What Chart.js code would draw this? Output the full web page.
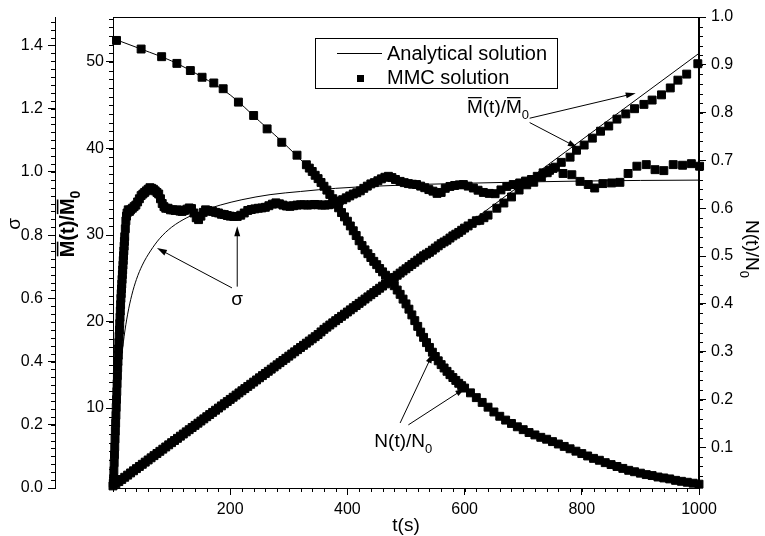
<!DOCTYPE html>
<html>
<head>
<meta charset="utf-8">
<script src="https://cdn.jsdelivr.net/npm/chart.js@4.4.0/dist/chart.umd.min.js"></script>
<style>
  body { margin: 0; background: #fff; }
</style>
</head>
<body>
<canvas id="chart" width="765" height="536"></canvas>
<script>
// tick labels
const xTicks = [200, 400, 600, 800, 1000];
const sigmaTicks = [0, 0.2, 0.4, 0.6, 0.8, 1.0, 1.2, 1.4];
const mTicks = [10, 20, 30, 40, 50];
const nTicks = [0.1, 0.2, 0.3, 0.4, 0.5, 0.6, 0.7, 0.8, 0.9, 1.0];

// sigma, analytical solution
const sigmaLineT = [0, 2, 4, 7, 10, 14, 19, 25, 32, 40, 50, 64, 80, 100, 126, 155, 183, 220, 268, 320, 380, 450, 520, 600, 700, 800, 900, 1000];
const sigmaLine = [0, 0.08, 0.15, 0.24, 0.32, 0.40, 0.48, 0.55, 0.61, 0.66, 0.705, 0.75, 0.79, 0.825, 0.855, 0.878, 0.895, 0.912, 0.928, 0.938, 0.948, 0.955, 0.960, 0.964, 0.968, 0.971, 0.973, 0.974];

// sigma, MMC solution
const sigmaMmcT = [0.5, 1, 1.5, 2, 2.5, 3, 3.5, 4, 4.5, 5, 5.5, 6, 6.5, 7, 7.5, 8, 8.5, 9, 9.5, 10, 10.5, 11, 11.5, 12, 12.5, 13, 13.5, 14, 14.5, 15, 15.5, 16, 16.5, 17, 17.5, 18, 18.5, 19, 19.5, 20, 21, 22, 23, 24, 26, 28, 30, 33, 36, 39, 42, 45, 48, 51, 54, 57, 60, 63, 66, 69, 72, 75, 78, 81, 84, 87, 90, 94, 98, 102, 106, 110, 114, 118, 122, 126, 130, 134, 138, 142, 146, 150, 154, 158, 162, 166, 170, 175, 180, 185, 190, 195, 200, 206, 212, 218, 224, 230, 236, 242, 248, 254, 260, 266, 272, 278, 284, 290, 296, 302, 308, 314, 320, 326, 332, 338, 344, 350, 356, 362, 368, 374, 380, 386, 392, 398, 404, 410, 416, 422, 428, 434, 440, 446, 452, 458, 464, 470, 476, 482, 490, 497, 504, 511, 518, 525, 532, 539, 546, 553, 560, 567, 575, 583, 591, 598, 606, 615, 623, 632, 642, 652, 662, 672, 683, 694, 704, 714, 724, 734, 745, 755, 768, 783, 797, 811, 822, 836, 851, 865, 879, 894, 910, 925, 940, 956, 972, 987, 1001];
const sigmaMmc = [0.015, 0.03, 0.055, 0.08, 0.105, 0.13, 0.155, 0.18, 0.205, 0.23, 0.255, 0.28, 0.305, 0.33, 0.355, 0.38, 0.40, 0.42, 0.44, 0.46, 0.48, 0.50, 0.52, 0.54, 0.56, 0.58, 0.60, 0.615, 0.63, 0.645, 0.66, 0.675, 0.69, 0.705, 0.72, 0.735, 0.75, 0.765, 0.78, 0.795, 0.82, 0.845, 0.86, 0.87, 0.88, 0.875, 0.88, 0.885, 0.89, 0.895, 0.905, 0.915, 0.925, 0.93, 0.935, 0.94, 0.945, 0.95, 0.948, 0.945, 0.94, 0.935, 0.93, 0.915, 0.90, 0.89, 0.885, 0.885, 0.88, 0.88, 0.878, 0.88, 0.876, 0.875, 0.878, 0.882, 0.886, 0.884, 0.87, 0.855, 0.849, 0.86, 0.872, 0.88, 0.878, 0.876, 0.875, 0.872, 0.87, 0.866, 0.865, 0.862, 0.86, 0.859, 0.859, 0.863, 0.87, 0.878, 0.881, 0.883, 0.885, 0.886, 0.888, 0.893, 0.898, 0.902, 0.899, 0.895, 0.892, 0.891, 0.893, 0.895, 0.896, 0.896, 0.895, 0.896, 0.897, 0.896, 0.895, 0.895, 0.896, 0.898, 0.903, 0.908, 0.912, 0.918, 0.924, 0.93, 0.934, 0.94, 0.948, 0.955, 0.962, 0.966, 0.972, 0.978, 0.983, 0.986, 0.982, 0.976, 0.970, 0.966, 0.963, 0.961, 0.96, 0.955, 0.95, 0.944, 0.939, 0.932, 0.935, 0.948, 0.954, 0.957, 0.959, 0.96, 0.955, 0.949, 0.942, 0.935, 0.932, 0.931, 0.943, 0.954, 0.96, 0.965, 0.971, 0.976, 0.986, 0.997, 1.005, 1.015, 0.995, 0.991, 0.970, 0.960, 0.949, 0.963, 0.965, 0.967, 0.995, 1.018, 1.023, 1.007, 1.004, 1.023, 1.021, 1.026, 1.018];

// M(t)/M0, analytical solution
const mLineT = [0, 1000];
const mLine = [1, 51];

// M(t)/M0, MMC solution
const mMmcT = [0, 5, 10, 15, 20, 25, 30, 35, 40, 45, 50, 55, 60, 65, 70, 75, 80, 85, 90, 95, 100, 105, 110, 115, 120, 125, 130, 135, 140, 145, 150, 155, 160, 165, 170, 175, 180, 185, 190, 195, 200, 205, 210, 215, 220, 225, 230, 235, 240, 245, 250, 255, 260, 265, 270, 275, 280, 285, 290, 295, 300, 305, 310, 315, 320, 325, 330, 335, 340, 345, 350, 355, 360, 365, 370, 375, 380, 385, 390, 395, 400, 405, 410, 415, 420, 425, 430, 435, 440, 445, 450, 455, 460, 465, 470, 475, 480, 485, 490, 495, 500, 505, 510, 515, 520, 525, 530, 535, 540, 545, 550, 555, 560, 565, 570, 575, 580, 585, 590, 595, 600, 606, 613, 620, 626, 633, 640, 655, 667, 680, 693, 706, 718, 731, 741, 751, 765, 780, 791, 804, 818, 832, 846, 860, 875, 890, 906, 920, 936, 951, 964, 979, 998];
const mMmc = [1.00, 1.25, 1.50, 1.75, 2.00, 2.25, 2.50, 2.75, 3.00, 3.25, 3.50, 3.75, 4.00, 4.25, 4.50, 4.75, 5.00, 5.25, 5.50, 5.75, 6.00, 6.25, 6.50, 6.75, 7.00, 7.25, 7.50, 7.75, 8.00, 8.25, 8.50, 8.75, 9.00, 9.25, 9.50, 9.75, 10.00, 10.25, 10.50, 10.75, 11.00, 11.25, 11.50, 11.75, 12.00, 12.25, 12.50, 12.75, 13.00, 13.25, 13.50, 13.75, 14.00, 14.25, 14.50, 14.75, 15.00, 15.25, 15.50, 15.75, 16.00, 16.25, 16.50, 16.75, 17.00, 17.25, 17.50, 17.75, 18.00, 18.25, 18.50, 18.80, 19.10, 19.35, 19.60, 19.85, 20.10, 20.35, 20.60, 20.85, 21.10, 21.35, 21.60, 21.85, 22.10, 22.35, 22.60, 22.85, 23.10, 23.35, 23.60, 23.85, 24.10, 24.35, 24.60, 24.85, 25.10, 25.35, 25.60, 25.85, 26.10, 26.35, 26.60, 26.85, 27.10, 27.35, 27.60, 27.80, 28.00, 28.25, 28.50, 28.75, 29.00, 29.20, 29.40, 29.65, 29.90, 30.10, 30.30, 30.55, 30.80, 31.05, 31.35, 31.65, 31.70, 32.00, 32.30, 33.1, 33.7, 34.4, 35.2, 35.8, 36.1, 36.7, 37.2, 37.7, 38.4, 39.0, 39.8, 40.4, 41.2, 42.0, 42.6, 43.4, 44.0, 44.6, 45.1, 45.6, 46.2, 47.0, 47.9, 48.6, 49.8];

// N(t)/N0, analytical solution
const nLineT = [0, 50, 100, 150, 200, 250, 300, 350, 400, 450, 500, 550, 600, 650, 700, 750, 800, 850, 900, 950, 1000];
const nLine = [0.955, 0.932, 0.908, 0.876, 0.837, 0.782, 0.726, 0.662, 0.573, 0.482, 0.400, 0.290, 0.224, 0.174, 0.137, 0.112, 0.087, 0.064, 0.046, 0.034, 0.023];

// N(t)/N0, MMC solution
const nMmcT = [6, 48, 83, 109, 132, 152, 172, 188, 214, 240, 263, 288, 314, 330, 335, 340, 345, 350, 355, 360, 365, 370, 375, 380, 385, 390, 395, 400, 405, 410, 415, 420, 425, 430, 435, 440, 445, 450, 455, 460, 465, 470, 475, 480, 485, 490, 495, 500, 505, 510, 515, 520, 525, 530, 535, 540, 545, 550, 555, 560, 565, 570, 575, 580, 585, 590, 595, 600, 610, 620, 630, 640, 650, 660, 670, 680, 690, 700, 710, 720, 730, 740, 750, 760, 770, 780, 790, 800, 810, 820, 830, 840, 850, 860, 870, 880, 890, 900, 910, 920, 930, 940, 950, 960, 970, 980, 990, 1000];
const nMmc = [0.951, 0.933, 0.917, 0.903, 0.888, 0.874, 0.862, 0.850, 0.822, 0.794, 0.766, 0.738, 0.711, 0.691, 0.684, 0.677, 0.669, 0.662, 0.654, 0.646, 0.638, 0.629, 0.620, 0.611, 0.601, 0.591, 0.582, 0.573, 0.563, 0.553, 0.543, 0.532, 0.522, 0.513, 0.505, 0.497, 0.489, 0.482, 0.474, 0.467, 0.460, 0.453, 0.446, 0.438, 0.429, 0.420, 0.410, 0.400, 0.389, 0.377, 0.365, 0.353, 0.341, 0.330, 0.319, 0.309, 0.299, 0.290, 0.281, 0.273, 0.266, 0.259, 0.252, 0.246, 0.240, 0.234, 0.229, 0.224, 0.214, 0.204, 0.194, 0.184, 0.174, 0.165, 0.157, 0.150, 0.143, 0.137, 0.131, 0.126, 0.121, 0.117, 0.112, 0.107, 0.102, 0.097, 0.092, 0.087, 0.082, 0.077, 0.073, 0.068, 0.064, 0.060, 0.056, 0.052, 0.049, 0.046, 0.043, 0.041, 0.038, 0.036, 0.034, 0.031, 0.029, 0.027, 0.025, 0.023];

// annotation arrows, in data units: [t0, v0, t1, v1] (arrow head at t1,v1)
const sigmaArrows = [[203, 0.633, 75, 0.759], [212, 0.637, 212, 0.828]];
const mArrows = [[711, 43.5, 892, 46.4], [711, 43.0, 793, 40.1]];
const nArrows = [[490, 0.151, 546, 0.297], [504, 0.147, 601, 0.224]];

const legendLabels = ['Analytical solution', 'MMC solution'];

const FONT = '"Liberation Sans", Arial, Helvetica, sans-serif';

function pairs(ts, ys) {
  return ts.map((t, i) => ({ x: t, y: ys[i] }));
}

function fixTicks(values) {
  return scale => { scale.ticks = values.map(v => ({ value: v })); };
}

function richText(ctx, parts, x, y, size, rot, align, bold) {
  const weight = bold ? 'bold ' : '';
  ctx.save();
  ctx.translate(x, y);
  ctx.rotate(rot);
  let w = 0;
  const items = parts.map(p => {
    const fs = p.sub ? Math.round(size * 0.68) : size;
    ctx.font = weight + fs + 'px ' + FONT;
    const pw = ctx.measureText(p.t).width;
    w += pw;
    return { p, fs, pw };
  });
  let cx = align === 'center' ? -w / 2 : 0;
  ctx.fillStyle = '#000';
  ctx.textAlign = 'left';
  ctx.textBaseline = 'alphabetic';
  items.forEach(({ p, fs, pw }) => {
    ctx.font = weight + fs + 'px ' + FONT;
    ctx.fillText(p.t, cx, p.sub ? size * 0.3 : 0);
    if (p.over) ctx.fillRect(cx + 1, -size * 0.86, pw - 2, bold ? 1.6 : 1.2);
    cx += pw;
  });
  ctx.restore();
}

function arrow(ctx, x1, y1, x2, y2) {
  const a = Math.atan2(y2 - y1, x2 - x1);
  const L = 10, W = 3;
  ctx.beginPath();
  ctx.moveTo(x1, y1);
  ctx.lineTo(x2 - L * 0.8 * Math.cos(a), y2 - L * 0.8 * Math.sin(a));
  ctx.stroke();
  ctx.beginPath();
  ctx.moveTo(x2, y2);
  ctx.lineTo(x2 - L * Math.cos(a) + W * Math.sin(a), y2 - L * Math.sin(a) - W * Math.cos(a));
  ctx.lineTo(x2 - L * Math.cos(a) - W * Math.sin(a), y2 - L * Math.sin(a) + W * Math.cos(a));
  ctx.closePath();
  ctx.fill();
}

const mLabel = [{ t: 'M', over: true }, { t: '(t)/' }, { t: 'M', over: true }, { t: '0', sub: true }];
const nLabel = [{ t: 'N(t)/N' }, { t: '0', sub: true }];

const decor = {
  id: 'decor',
  afterDraw(chart) {
    const ctx = chart.ctx;
    const area = chart.chartArea;
    const { x, yS, yM, yN } = chart.scales;
    ctx.save();
    ctx.strokeStyle = '#000';
    ctx.fillStyle = '#000';
    ctx.lineWidth = 1;

    // frame
    ctx.strokeRect(Math.round(area.left) + 0.5, Math.round(area.top) + 0.5,
      Math.round(area.right - area.left) - 1, Math.round(area.bottom - area.top));

    // minor ticks
    ctx.beginPath();
    for (let i = 0; i <= 50; i++) {
      const px = Math.round(x.getPixelForValue(i * 20)) + 0.5;
      ctx.moveTo(px, area.bottom); ctx.lineTo(px, area.bottom + 4);
    }
    for (let i = 0; i * 0.025 <= yS.max; i++) {
      const py = Math.round(yS.getPixelForValue(i * 0.025)) + 0.5;
      ctx.moveTo(yS.right, py); ctx.lineTo(yS.right - 4, py);
    }
    for (let v = 1; v <= yM.max; v++) {
      const py = Math.round(yM.getPixelForValue(v)) + 0.5;
      ctx.moveTo(yM.right, py); ctx.lineTo(yM.right - 4, py);
    }
    for (let i = 1; i <= 50; i++) {
      if (i * 0.02 < yN.min) continue;
      const py = Math.round(yN.getPixelForValue(i * 0.02)) + 0.5;
      ctx.moveTo(yN.left, py); ctx.lineTo(yN.left + 4, py);
    }
    ctx.stroke();

    // axis titles
    richText(ctx, [{ t: 'σ' }], 20, 224, 19, -Math.PI / 2, 'center', false);
    richText(ctx, mLabel, 74, 224, 20, -Math.PI / 2, 'center', true);
    richText(ctx, nLabel, 746, 249, 19, Math.PI / 2, 'center', false);
    richText(ctx, [{ t: 't(s)' }], (area.left + area.right) / 2, 531, 19, 0, 'center', false);

    // annotations
    sigmaArrows.forEach(a => arrow(ctx, x.getPixelForValue(a[0]), yS.getPixelForValue(a[1]),
      x.getPixelForValue(a[2]), yS.getPixelForValue(a[3])));
    mArrows.forEach(a => arrow(ctx, x.getPixelForValue(a[0]), yM.getPixelForValue(a[1]),
      x.getPixelForValue(a[2]), yM.getPixelForValue(a[3])));
    nArrows.forEach(a => arrow(ctx, x.getPixelForValue(a[0]), yN.getPixelForValue(a[1]),
      x.getPixelForValue(a[2]), yN.getPixelForValue(a[3])));
    richText(ctx, [{ t: 'σ' }], x.getPixelForValue(202), yS.getPixelForValue(0.58), 19, 0, 'left', false);
    richText(ctx, mLabel, x.getPixelForValue(604), yM.getPixelForValue(44.06), 19, 0, 'left', false);
    richText(ctx, nLabel, x.getPixelForValue(446), yN.getPixelForValue(0.101), 19, 0, 'left', false);

    // legend
    const lx = area.left + 202, ly = area.top + 21;
    ctx.fillStyle = '#fff';
    ctx.fillRect(lx, ly, 242, 50);
    ctx.strokeRect(lx + 0.5, ly + 0.5, 242, 50);
    ctx.beginPath();
    ctx.moveTo(lx + 22, ly + 15.5); ctx.lineTo(lx + 67, ly + 15.5);
    ctx.stroke();
    ctx.fillStyle = '#000';
    ctx.fillRect(lx + 42, ly + 37, 7, 7);
    ctx.font = '20px ' + FONT;
    ctx.textAlign = 'left';
    ctx.textBaseline = 'middle';
    ctx.fillText(legendLabels[0], lx + 72, ly + 16);
    ctx.fillText(legendLabels[1], lx + 72, ly + 40);
    ctx.restore();
  }
};

function lineSet(data, axis) {
  return {
    data, yAxisID: axis, showLine: true, borderColor: '#000', borderWidth: 1,
    pointRadius: 0, cubicInterpolationMode: 'monotone', fill: false, order: 1
  };
}

function pointSet(data, axis) {
  return {
    data, yAxisID: axis, showLine: false, pointStyle: 'rect', pointRadius: 5.6,
    pointBackgroundColor: '#000', pointBorderColor: '#000', pointBorderWidth: 1,
    clip: false, order: 0
  };
}

const tickFont = { family: FONT, size: 16 };
const grid = { drawOnChartArea: false, color: '#000', tickLength: 7, lineWidth: 1 };
const border = { display: true, color: '#000', width: 1 };

new Chart(document.getElementById('chart'), {
  type: 'scatter',
  data: {
    datasets: [
      lineSet(pairs(sigmaLineT, sigmaLine), 'yS'),
      pointSet(pairs(sigmaMmcT, sigmaMmc), 'yS'),
      lineSet(pairs(mLineT, mLine), 'yM'),
      pointSet(pairs(mMmcT, mMmc), 'yM'),
      lineSet(pairs(nLineT, nLine), 'yN'),
      pointSet(pairs(nMmcT, nMmc), 'yN')
    ]
  },
  options: {
    responsive: false,
    animation: false,
    layout: { padding: { top: 17, left: 0, right: 0, bottom: 0 } },
    plugins: { legend: { display: false }, tooltip: { enabled: false } },
    scales: {
      x: {
        type: 'linear', position: 'bottom', min: 0, max: 1000,
        afterBuildTicks: fixTicks(xTicks),
        afterFit: s => { s.height = 48; },
        ticks: { color: '#000', font: tickFont, padding: 5, maxRotation: 0, autoSkip: false, callback: v => String(v) },
        grid, border
      },
      yS: {
        type: 'linear', position: 'left', weight: 1, min: 0, max: 1.49,
        afterBuildTicks: fixTicks(sigmaTicks),
        afterFit: s => { s.width = 55; },
        ticks: { color: '#000', font: tickFont, padding: 5, autoSkip: false, callback: v => v.toFixed(1) },
        grid, border
      },
      yM: {
        type: 'linear', position: 'left', weight: 0, min: 0.76, max: 55.2,
        afterBuildTicks: fixTicks(mTicks),
        afterFit: s => { s.width = 58; },
        ticks: { color: '#000', font: tickFont, padding: 2, autoSkip: false, callback: v => String(v) },
        grid, border
      },
      yN: {
        type: 'linear', position: 'right', min: 0.015, max: 1.0,
        afterBuildTicks: fixTicks(nTicks),
        afterFit: s => { s.width = 66; },
        ticks: { color: '#000', font: tickFont, padding: 5, autoSkip: false, callback: v => v.toFixed(1) },
        grid, border
      }
    }
  },
  plugins: [decor]
});
</script>
</body>
</html>
